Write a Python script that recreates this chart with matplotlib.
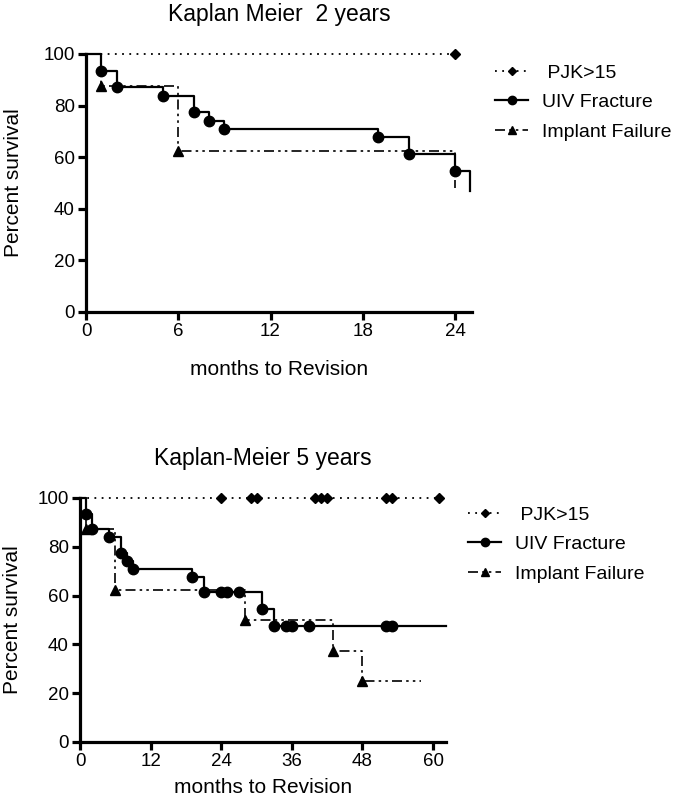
"""
Kaplan-Meier survival curves, 2 and 5 year follow-up
"""
import matplotlib
matplotlib.use('Agg')
import matplotlib.pyplot as plt

plt.rcParams['font.family'] = ['Liberation Sans', 'DejaVu Sans']

# ---- 2 year data ----
pjk2_t = [0, 24]
pjk2_s = [100, 100]
pjk2_mark_t = [24]
pjk2_mark_s = [100]

uiv2_t = [0, 1, 2, 5, 7, 8, 9, 19, 21, 24, 25]
uiv2_s = [100, 93.5, 87.1, 83.9, 77.4, 74.2, 71.0, 67.7, 61.3, 54.8, 47.0]
uiv2_mark_t = [1, 2, 5, 7, 8, 9, 19, 21, 24]
uiv2_mark_s = [93.5, 87.1, 83.9, 77.4, 74.2, 71.0, 67.7, 61.3, 54.8]

impl2_t = [0, 1, 6, 24]
impl2_s = [100, 87.5, 62.5, 48]
impl2_mark_t = [1, 6]
impl2_mark_s = [87.5, 62.5]

# ---- 5 year data ----
pjk5_t = [0, 61]
pjk5_s = [100, 100]
pjk5_mark_t = [24, 29, 30, 40, 41, 42, 52, 53, 61]
pjk5_mark_s = [100] * 9

uiv5_t = [0, 1, 2, 5, 7, 8, 9, 19, 21, 31, 33, 62.2]
uiv5_s = [100, 93.5, 87.1, 83.9, 77.4, 74.2, 71.0, 67.7, 61.3, 54.5, 47.6, 47.6]
uiv5_mark_t = [1, 2, 5, 7, 8, 9, 19, 21, 24, 25, 27, 31, 33, 35, 36, 39, 52, 53]
uiv5_mark_s = [93.5, 87.1, 83.9, 77.4, 74.2, 71.0, 67.7, 61.3, 61.3, 61.3, 61.3,
               54.5, 47.6, 47.6, 47.6, 47.6, 47.6, 47.6]

impl5_t = [0, 1, 6, 28, 43, 48, 58]
impl5_s = [100, 87.5, 62.5, 50, 37.5, 25, 25]
impl5_mark_t = [1, 6, 28, 43, 48]
impl5_mark_s = [87.5, 62.5, 50, 37.5, 25]

labels = [' PJK>15', 'UIV Fracture', 'Implant Failure']

DASHDOT2 = (0, (6, 2.5, 1.5, 2.5, 1.5, 2.5))


def draw_km(ax, curves, title, xmax, xticks, legend_xy, ylabelpad, xlabelpad):
    handles = []
    styles = [
        dict(ls=(0, (1, 3)), lw=1.3, marker='D', ms=5.5),
        dict(ls='-', lw=1.6, marker='o', ms=7.5),
        dict(ls=DASHDOT2, lw=1.2, marker='^', ms=6.5),
    ]
    for (t, s, mt, ms_), st, lab in zip(curves, styles, labels):
        ax.step(t, s, where='post', color='black', ls=st['ls'], lw=st['lw'],
                clip_on=False, zorder=3)
        ax.plot(mt, ms_, ls='none', marker=st['marker'], ms=st['ms'],
                color='black', clip_on=False, zorder=4)
        h, = ax.plot([], [], color='black', ls=st['ls'], lw=st['lw'],
                     marker=st['marker'], ms=st['ms'] * 0.8, label=lab)
        handles.append(h)

    ax.set_xlim(0, xmax)
    ax.set_ylim(0, 100)
    ax.set_xticks(xticks)
    ax.set_yticks([0, 20, 40, 60, 80, 100])
    ax.spines['top'].set_visible(False)
    ax.spines['right'].set_visible(False)
    for sp in ['left', 'bottom']:
        ax.spines[sp].set_linewidth(2.3)
    ax.tick_params(width=2.3, length=6, labelsize=13.5, pad=2)
    ax.set_xlabel('months to Revision', fontsize=15, labelpad=xlabelpad)
    ax.set_ylabel('Percent survival', fontsize=15, labelpad=ylabelpad)
    ax.set_title(title, fontsize=16.5, pad=24)
    ax.legend(handles=handles, loc='upper left', bbox_to_anchor=legend_xy,
              bbox_transform=ax.figure.transFigure, frameon=False,
              fontsize=14, handlelength=1.7, handletextpad=0.7,
              labelspacing=0.62, borderpad=0, borderaxespad=0, numpoints=1)


fig = plt.figure(figsize=(6.79, 8.0), dpi=100)

ax1 = fig.add_axes([86 / 679, 0.61, 386 / 679, 258 / 800])
draw_km(ax1,
        [(pjk2_t, pjk2_s, pjk2_mark_t, pjk2_mark_s),
         (uiv2_t, uiv2_s, uiv2_mark_t, uiv2_mark_s),
         (impl2_t, impl2_s, impl2_mark_t, impl2_mark_s)],
        'Kaplan Meier  2 years', 25.1, [0, 6, 12, 18, 24],
        (495 / 679, 1 - 64 / 800), 15, 14)

ax2 = fig.add_axes([80 / 679, 58 / 800, 366 / 679, 244 / 800])
draw_km(ax2,
        [(pjk5_t, pjk5_s, pjk5_mark_t, pjk5_mark_s),
         (uiv5_t, uiv5_s, uiv5_mark_t, uiv5_mark_s),
         (impl5_t, impl5_s, impl5_mark_t, impl5_mark_s)],
        'Kaplan-Meier 5 years', 62.2, [0, 12, 24, 36, 48, 60],
        (468 / 679, 1 - 506 / 800), 11.5, 6)

fig.savefig('out.png', dpi=100)
